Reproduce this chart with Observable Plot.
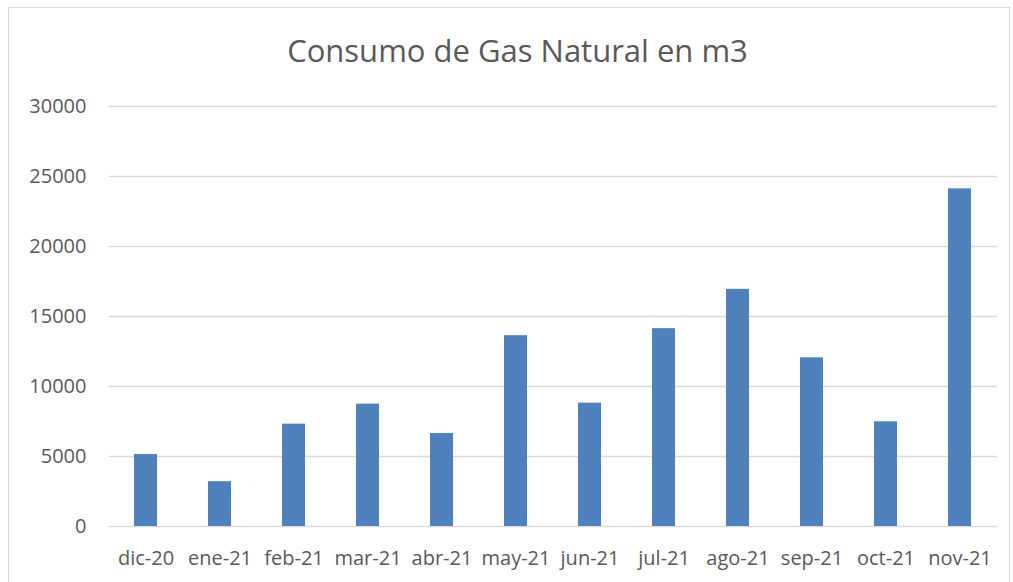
<!DOCTYPE html>
<html>
<head>
<meta charset="utf-8">
<script src="https://cdn.jsdelivr.net/npm/d3@7"></script>
<script src="https://cdn.jsdelivr.net/npm/@observablehq/plot@0.6"></script>
<style>
  html, body { margin: 0; padding: 0; background: #fff; }
  #wrap { position: relative; width: 1013px; height: 582px; overflow: hidden; font-family: "Open Sans", sans-serif; }
  #frame { position: absolute; left: 8px; top: 7px; width: 1002px; height: 600px; border: 1px solid #d9d9d9; box-sizing: border-box; }
  #title { position: absolute; left: 0; top: 30px; width: 1035px; text-align: center; font-size: 31px; color: #595959; line-height: 40px; }
  #chart { position: absolute; left: 0; top: 0; }
</style>
</head>
<body>
<div id="wrap">
  <div id="frame"></div>
  <div id="title">Consumo de Gas Natural en m3</div>
  <div id="chart"></div>
</div>
<script>
const months = ["dic-20","ene-21","feb-21","mar-21","abr-21","may-21","jun-21","jul-21","ago-21","sep-21","oct-21","nov-21"];
const consumo = [5140, 3200, 7310, 8740, 6640, 13630, 8810, 14130, 16940, 12050, 7480, 24120];
const yTicks = [0, 5000, 10000, 15000, 20000, 25000, 30000];

const data = months.map((m, i) => ({mes: m, valor: consumo[i]}));

const chart = Plot.plot({
  width: 1013,
  height: 582,
  marginLeft: 109,
  marginRight: 16,
  marginTop: 106,
  marginBottom: 56,
  style: {fontFamily: "'Open Sans', sans-serif", fontSize: "20px", color: "#595959", background: "transparent"},
  x: {domain: months, paddingInner: 0.685, paddingOuter: 0.3425, label: null, tickSize: 0, tickPadding: 24},
  y: {domain: [0, 30000], ticks: yTicks, tickFormat: d => String(d), label: null, tickSize: 0, tickPadding: 23},
  marks: [
    Plot.ruleY(yTicks, {stroke: "#d9d9d9", strokeWidth: 1.5}),
    Plot.barY(data, {x: "mes", y: "valor", fill: "#4f81bd"})
  ]
});
document.getElementById("chart").appendChild(chart);
</script>
</body>
</html>
